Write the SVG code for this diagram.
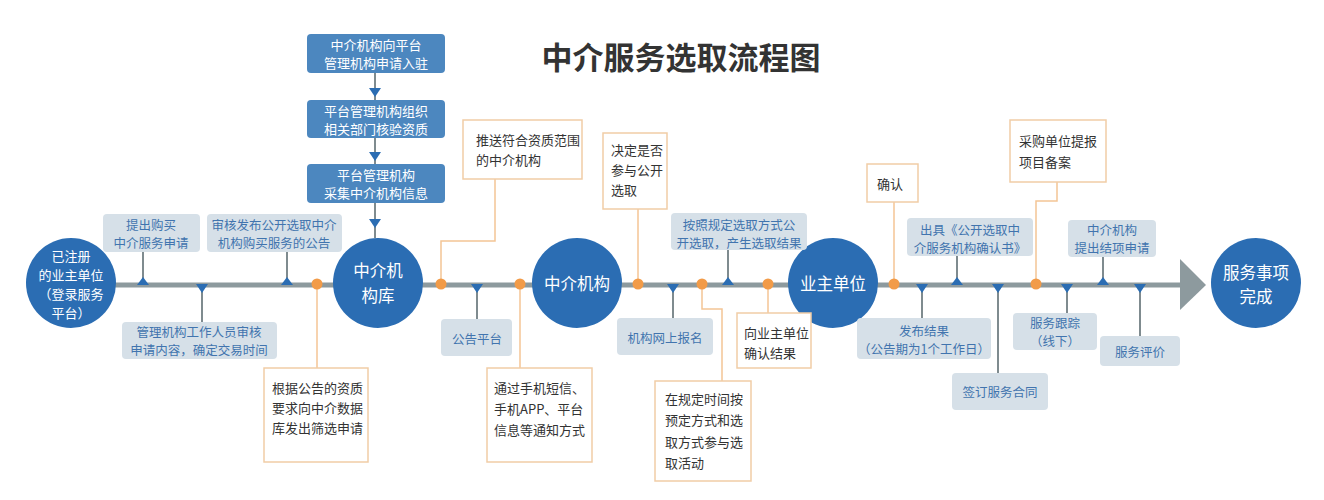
<svg xmlns="http://www.w3.org/2000/svg" width="1324" height="500" viewBox="0 0 1324 500">
<style>
text{font-family:"Noto Sans CJK SC","Noto Sans",sans-serif}
.title{font-size:31px;font-weight:bold;fill:#333;text-anchor:middle;dominant-baseline:central}
.circ{fill:#2b6db3}
.ct{fill:#fff;font-size:16.5px;text-anchor:middle;dominant-baseline:central}
.ct2{fill:#fff;font-size:13px;text-anchor:middle;dominant-baseline:central}
.bb{fill:#4c87bf;}
.bt{fill:#fff;font-size:13px;text-anchor:middle;dominant-baseline:central}
.gb{fill:#d6e0e8}
.gt{fill:#4174ae;font-size:12.5px;text-anchor:middle;dominant-baseline:central}
.ob{fill:#fff;stroke:#f1cda6;stroke-width:1.5}
.ot{fill:#333;font-size:13px;dominant-baseline:central}
.gl{stroke:#7f8b8f;stroke-width:2;fill:none}
.ol{stroke:#f4c595;stroke-width:1.5;fill:none}
.tri{fill:#2b6db3}
.dot{fill:#f29b48}
</style>

<text class="title" x="681" y="55">中介服务选取流程图</text>

<g id="connectors">
  <line x1="100" y1="285" x2="1182" y2="285" stroke="#8d9a9e" stroke-width="5"/>
  <polygon points="1180,259 1206,285 1180,310" fill="#8d9a9e"/>
  <line class="gl" x1="375" y1="73" x2="375" y2="238"/>
  <polygon class="tri" points="369,88 381,88 375,97"/>
  <polygon class="tri" points="369,152 381,152 375,161"/>
  <polygon class="tri" points="369,219 381,219 375,228"/>
  <line class="gl" x1="143" y1="252" x2="143" y2="284"/>
  <line class="gl" x1="287" y1="252" x2="287" y2="284"/>
  <line class="gl" x1="202" y1="285" x2="202" y2="322"/>
  <line class="gl" x1="477" y1="285" x2="477" y2="319"/>
  <line class="gl" x1="673" y1="285" x2="673" y2="318"/>
  <line class="gl" x1="728" y1="250" x2="728" y2="284"/>
  <line class="gl" x1="922" y1="285" x2="922" y2="318"/>
  <line class="gl" x1="957" y1="256" x2="957" y2="284"/>
  <line class="gl" x1="998" y1="285" x2="998" y2="373"/>
  <line class="gl" x1="1067" y1="285" x2="1067" y2="313"/>
  <line class="gl" x1="1103" y1="257" x2="1103" y2="284"/>
  <line class="gl" x1="1140" y1="285" x2="1140" y2="336"/>
  <polygon class="tri" points="137,285 149,285 143,277"/>
  <polygon class="tri" points="281,285 293,285 287,277"/>
  <polygon class="tri" points="196,284 208,284 202,293"/>
  <polygon class="tri" points="471,284 483,284 477,293"/>
  <polygon class="tri" points="667,284 679,284 673,293"/>
  <polygon class="tri" points="722,285 734,285 728,277"/>
  <polygon class="tri" points="916,284 928,284 922,293"/>
  <polygon class="tri" points="951,285 963,285 957,277"/>
  <polygon class="tri" points="992,284 1004,284 998,293"/>
  <polygon class="tri" points="1061,284 1073,284 1067,293"/>
  <polygon class="tri" points="1097,285 1109,285 1103,277"/>
  <polygon class="tri" points="1134,284 1146,284 1140,293"/>
  <line class="ol" x1="317" y1="284" x2="317" y2="368"/>
  <path class="ol" d="M441 284 V241 H495 V179"/>
  <line class="ol" x1="520" y1="284" x2="520" y2="368"/>
  <line class="ol" x1="638" y1="284" x2="638" y2="209"/>
  <path class="ol" d="M702 284 V309 H722 V381"/>
  <line class="ol" x1="768" y1="284" x2="768" y2="313"/>
  <line class="ol" x1="894" y1="284" x2="894" y2="202"/>
  <path class="ol" d="M1036 284 V201 H1057 V182"/>
  <circle class="dot" cx="317" cy="284" r="5.5"/>
  <circle class="dot" cx="441" cy="284" r="5.5"/>
  <circle class="dot" cx="520" cy="284" r="5.5"/>
  <circle class="dot" cx="638" cy="284" r="5.5"/>
  <circle class="dot" cx="702" cy="284" r="5.5"/>
  <circle class="dot" cx="768" cy="284" r="5.5"/>
  <circle class="dot" cx="894" cy="284" r="5.5"/>
  <circle class="dot" cx="1036" cy="284" r="5.5"/>
</g>

<g id="n-start">
  <circle class="circ" cx="71" cy="283" r="45"/>
  <text class="ct2" x="71" y="255">已注册</text>
  <text class="ct2" x="71" y="274">的业主单位</text>
  <text class="ct2" x="71" y="293">（登录服务</text>
  <text class="ct2" x="71" y="312">平台）</text>
</g>
<g id="n-lib">
  <circle class="circ" cx="378" cy="283" r="45"/>
  <text class="ct" x="378" y="270">中介机</text>
  <text class="ct" x="378" y="295">构库</text>
</g>
<g id="n-agency">
  <circle class="circ" cx="577" cy="283" r="45"/>
  <text class="ct" x="577" y="283">中介机构</text>
</g>
<g id="n-owner">
  <circle class="circ" cx="833" cy="283" r="45"/>
  <text class="ct" x="833" y="283">业主单位</text>
</g>
<g id="n-done">
  <circle class="circ" cx="1256" cy="283" r="45"/>
  <text class="ct" x="1256" y="272">服务事项</text>
  <text class="ct" x="1256" y="296">完成</text>
</g>

<g id="b1">
  <rect class="bb" x="307" y="34" width="138" height="39" rx="4"/>
  <text class="bt" x="376" y="44.5">中介机构向平台</text>
  <text class="bt" x="376" y="62.5">管理机构申请入驻</text>
</g>
<g id="b2">
  <rect class="bb" x="307" y="100" width="138" height="38" rx="4"/>
  <text class="bt" x="376" y="110">平台管理机构组织</text>
  <text class="bt" x="376" y="128">相关部门核验资质</text>
</g>
<g id="b3">
  <rect class="bb" x="307" y="164" width="138" height="39" rx="4"/>
  <text class="bt" x="376" y="174.5">平台管理机构</text>
  <text class="bt" x="376" y="192.5">采集中介机构信息</text>
</g>

<g id="g1">
  <rect class="gb" x="103" y="214" width="97" height="38" rx="4"/>
  <text class="gt" x="151" y="224">提出购买</text>
  <text class="gt" x="151" y="242">中介服务申请</text>
</g>
<g id="g2">
  <rect class="gb" x="207" y="214" width="135" height="38" rx="4"/>
  <text class="gt" x="274" y="224">审核发布公开选取中介</text>
  <text class="gt" x="274" y="242">机构购买服务的公告</text>
</g>
<g id="g3">
  <rect class="gb" x="122" y="322" width="155" height="37" rx="4"/>
  <text class="gt" x="199" y="331.5">管理机构工作人员审核</text>
  <text class="gt" x="199" y="349.5">申请内容，确定交易时间</text>
</g>
<g id="g4">
  <rect class="gb" x="441" y="319" width="71" height="37" rx="4"/>
  <text class="gt" x="477" y="338">公告平台</text>
</g>
<g id="g5">
  <rect class="gb" x="617" y="318" width="96" height="37" rx="4"/>
  <text class="gt" x="665" y="337">机构网上报名</text>
</g>
<g id="g6">
  <rect class="gb" x="671" y="213" width="136" height="37" rx="4"/>
  <text class="gt" x="739" y="224">按照规定选取方式公</text>
  <text class="gt" x="739" y="242">开选取，产生选取结果</text>
</g>
<g id="g7">
  <rect class="gb" x="857" y="318" width="134" height="41" rx="4"/>
  <text class="gt" x="924" y="330">发布结果</text>
  <text class="gt" x="924" y="348">（公告期为1个工作日）</text>
</g>
<g id="g8">
  <rect class="gb" x="907" y="218" width="126" height="38" rx="4"/>
  <text class="gt" x="970" y="229">出具《公开选取中</text>
  <text class="gt" x="970" y="247">介服务机构确认书》</text>
</g>
<g id="g9">
  <rect class="gb" x="952" y="373" width="96" height="37" rx="4"/>
  <text class="gt" x="1000" y="391">签订服务合同</text>
</g>
<g id="g10">
  <rect class="gb" x="1013" y="313" width="84" height="37" rx="4"/>
  <text class="gt" x="1055" y="322">服务跟踪</text>
  <text class="gt" x="1055" y="340">（线下）</text>
</g>
<g id="g11">
  <rect class="gb" x="1068" y="220" width="88" height="37" rx="4"/>
  <text class="gt" x="1112" y="229.5">中介机构</text>
  <text class="gt" x="1112" y="247.5">提出结项申请</text>
</g>
<g id="g12">
  <rect class="gb" x="1100" y="336" width="80" height="30" rx="4"/>
  <text class="gt" x="1140" y="351">服务评价</text>
</g>

<g id="o1">
  <rect class="ob" x="264" y="368" width="104" height="94"/>
  <text class="ot" x="272" y="387">根据公告的资质</text>
  <text class="ot" x="272" y="407">要求向中介数据</text>
  <text class="ot" x="272" y="427">库发出筛选申请</text>
</g>
<g id="o2">
  <rect class="ob" x="487" y="368" width="105" height="94"/>
  <text class="ot" x="494" y="387">通过手机短信、</text>
  <text class="ot" x="494" y="408">手机APP、平台</text>
  <text class="ot" x="494" y="429">信息等通知方式</text>
</g>
<g id="o3">
  <rect class="ob" x="463" y="120" width="119" height="59"/>
  <text class="ot" x="476" y="139">推送符合资质范围</text>
  <text class="ot" x="476" y="159">的中介机构</text>
</g>
<g id="o4">
  <rect class="ob" x="603" y="133" width="64" height="76"/>
  <text class="ot" x="611" y="149">决定是否</text>
  <text class="ot" x="611" y="169">参与公开</text>
  <text class="ot" x="611" y="189">选取</text>
</g>
<g id="o5">
  <rect class="ob" x="655" y="381" width="96" height="100"/>
  <text class="ot" x="665" y="398">在规定时间按</text>
  <text class="ot" x="665" y="419">预定方式和选</text>
  <text class="ot" x="665" y="441">取方式参与选</text>
  <text class="ot" x="665" y="462">取活动</text>
</g>
<g id="o6">
  <rect class="ob" x="737" y="313" width="74" height="55"/>
  <text class="ot" x="744" y="332">向业主单位</text>
  <text class="ot" x="744" y="352">确认结果</text>
</g>
<g id="o7">
  <rect class="ob" x="867" y="164" width="51" height="38"/>
  <text class="ot" x="877" y="183">确认</text>
</g>
<g id="o8">
  <rect class="ob" x="1010" y="120" width="96" height="62"/>
  <text class="ot" x="1019" y="140">采购单位提报</text>
  <text class="ot" x="1019" y="161">项目备案</text>
</g>
</svg>
